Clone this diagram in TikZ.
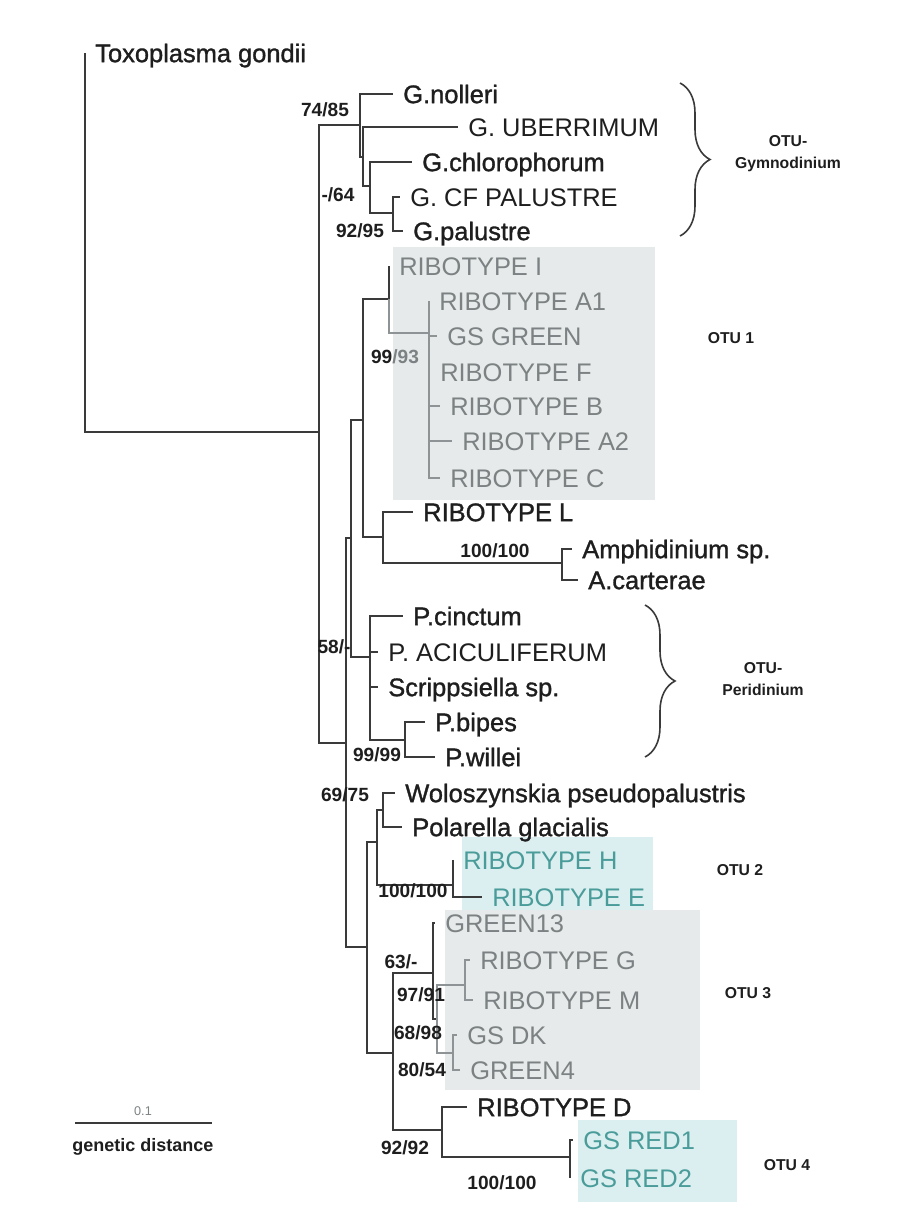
\documentclass[tikz,border=0pt]{standalone}
\usepackage{fontspec}
\setmainfont{Liberation Sans}
\newfontfamily\heavysans{Liberation Sans}[FakeBold=1.2]
\usepackage{tikz}
\usetikzlibrary{decorations.pathreplacing}
\definecolor{ink}{HTML}{1E1E1E}
\definecolor{stemInk}{HTML}{3A3A3A}
\definecolor{twig}{HTML}{8E9495}
\definecolor{otuGray}{HTML}{7C8283}
\definecolor{otuTeal}{HTML}{4A9C9A}
\definecolor{boxGray}{HTML}{E7EAEB}
\definecolor{boxTeal}{HTML}{DCEFF0}
\tikzset{
  taxon/.style={anchor=west, inner xsep=2.5mm, inner ysep=0pt, text height=13pt, text depth=0pt, font=\heavysans\fontsize{18.1pt}{20pt}\selectfont, text=ink},
  grayTaxon/.style={taxon, font=\fontsize{18.1pt}{20pt}\selectfont, text=otuGray},
  tealTaxon/.style={taxon, font=\fontsize{18.1pt}{20pt}\selectfont, text=otuTeal},
  boot/.style={inner sep=0pt, font=\bfseries\fontsize{13.6pt}{15pt}\selectfont, text=ink},
  otu/.style={inner sep=0pt, align=center, font=\bfseries\fontsize{11.2pt}{15.6pt}\selectfont, text=ink},
  stem/.style={draw=stemInk, line width=0.5mm},
  stemlite/.style={draw=twig, line width=0.4mm},
  curly/.style={draw=stemInk, line width=0.4mm, decorate, decoration={brace, amplitude=7.5mm}},
}

\begin{document}
\begin{tikzpicture}[x=0.25mm, y=-0.25mm]
\useasboundingbox (0,0) rectangle (904,1211);
% OTU shading
\fill[boxGray] (393,247) rectangle (655,500);
\fill[boxTeal] (462,837) rectangle (653,910);
\fill[boxGray] (445,910) rectangle (700,1090);
\fill[boxTeal] (578,1120) rectangle (737,1202);

% inner nodes of the tree
\coordinate (R) at (85,240);
\coordinate (A) at (319,432);
\coordinate (G1) at (360,125);
\coordinate (G2) at (363,157);
\coordinate (G3) at (370,186);
\coordinate (Pal) at (393,213);
\coordinate (B) at (346,743);
\coordinate (C) at (351,538);
\coordinate (O1L) at (363,420);
\coordinate (O1) at (389,299);
\coordinate (O1in) at (429,333);
\coordinate (LA) at (383,537);
\coordinate (Am) at (562,563);
\coordinate (Per) at (370,657);
\coordinate (PP) at (405,740);
\coordinate (D) at (367,947);
\coordinate (E) at (377,842);
\coordinate (WP) at (383,810);
\coordinate (HE) at (453,885);
\coordinate (F) at (393,1053);
\coordinate (O3) at (433,973);
\coordinate (O3b) at (437,1019);
\coordinate (GM) at (465,985);
\coordinate (DG) at (453,1053);
\coordinate (DR) at (442,1130);
\coordinate (RED) at (570,1157);

% taxa
\node[taxon] (toxo) at (85,53) {Toxoplasma gondii};
\node[taxon] (nol) at (393,94) {G.nolleri};
\node[taxon, font=\fontsize{18.1pt}{20pt}\selectfont] (uber) at (458,127) {G. UBERRIMUM};
\node[taxon] (chloro) at (412,162) {G.chlorophorum};
\node[taxon, font=\fontsize{18.1pt}{20pt}\selectfont] (cfpal) at (400,197) {G. CF PALUSTRE};
\node[taxon] (gpal) at (403,231) {G.palustre};
\node[grayTaxon] (ribI) at (389,266) {RIBOTYPE I};
\node[grayTaxon] (ribAa) at (429,301) {RIBOTYPE A1};
\node[grayTaxon] (gsgreen) at (437,336) {GS GREEN};
\node[grayTaxon] (ribF) at (430,372) {RIBOTYPE F};
\node[grayTaxon] (ribB) at (440,406) {RIBOTYPE B};
\node[grayTaxon] (ribAb) at (452,441) {RIBOTYPE A2};
\node[grayTaxon] (ribC) at (440,478) {RIBOTYPE C};
\node[taxon] (ribL) at (413,512) {RIBOTYPE L};
\node[taxon] (amph) at (572,549) {Amphidinium sp.};
\node[taxon] (acart) at (578,580) {A.carterae};
\node[taxon] (pcinc) at (403,616) {P.cinctum};
\node[taxon, font=\fontsize{18.1pt}{20pt}\selectfont] (pacic) at (378,652) {P. ACICULIFERUM};
\node[taxon] (scrip) at (378,687) {Scrippsiella sp.};
\node[taxon] (pbip) at (425,722) {P.bipes};
\node[taxon] (pwil) at (435,757) {P.willei};
\node[taxon] (wolo) at (395,793) {Woloszynskia pseudopalustris};
\node[taxon] (polar) at (402,827) {Polarella glacialis};
\node[tealTaxon] (ribH) at (453,860) {RIBOTYPE H};
\node[tealTaxon] (ribE) at (482,897) {RIBOTYPE E};
\node[grayTaxon] (grn13) at (435,923) {GREEN13};
\node[grayTaxon] (ribG) at (470,960) {RIBOTYPE G};
\node[grayTaxon] (ribM) at (473,1000) {RIBOTYPE M};
\node[grayTaxon] (gsdk) at (457,1035) {GS DK};
\node[grayTaxon] (grn4) at (460,1070) {GREEN4};
\node[taxon] (ribD) at (467,1107) {RIBOTYPE D};
\node[tealTaxon] (red1) at (573,1140) {GS RED1};
\node[tealTaxon] (red2) at (570,1178) {GS RED2};

% branches
\foreach \p/\c in {R/toxo, R/A, A/G1, A/B, G1/nol, G1/G2, G2/uber, G2/G3, G3/chloro, G3/Pal,
  Pal/cfpal, Pal/gpal, B/C, B/D, C/O1L, C/Per, O1L/O1, O1L/LA, O1/ribI, LA/ribL, LA/Am,
  Am/amph, Am/acart, Per/pcinc, Per/pacic, Per/scrip, Per/PP, PP/pbip, PP/pwil,
  D/E, D/F, E/WP, E/HE, WP/wolo, WP/polar, HE/ribH, HE/ribE, F/O3, F/DR, O3/grn13, O3/O3b,
  DR/ribD, DR/RED, RED/red1, RED/red2}
  \draw[stem] (\p) |- (\c);
\foreach \p/\c in {O1/O1in, O1in/ribAa, O1in/gsgreen, O1in/ribF, O1in/ribB, O1in/ribAb, O1in/ribC,
  O3b/GM, O3b/DG, GM/ribG, GM/ribM, DG/gsdk, DG/grn4}
  \draw[stemlite] (\p) |- (\c);

% support values
\node[boot] (s1) at (325,110) {74/85};
\node[boot] (s2) at (338,195) {-/64};
\node[boot] (s3) at (360,231) {92/95};
\node[boot] (s4) at (395,357) {99\textcolor{otuGray}{/93}};
\node[boot] (s5) at (495,551) {100/100};
\node[boot] (s6) at (334,647) {58/-};
\node[boot] (s7) at (377,755) {99/99};
\node[boot] (s8) at (345,795) {69/75};
\node[boot] (s9) at (413,891) {100/100};
\node[boot] (s10) at (401,962) {63/-};
\node[boot] (s11) at (421,995) {97/91};
\node[boot] (s12) at (418,1033) {68/98};
\node[boot] (s13) at (422,1070) {80/54};
\node[boot] (s14) at (405,1148) {92/92};
\node[boot] (s15) at (502,1183) {100/100};

% OTU groups
\draw[curly] (680,83) -- (680,236);
\draw[curly] (645,605) -- (645,757);
\node[otu] (gym) at (788,154) {OTU-\\Gymnodinium};
\node[otu] (peri) at (763,679) {OTU-\\Peridinium};
\node[otu] (otu1) at (731,338) {OTU 1};
\node[otu] (otu2) at (740,870) {OTU 2};
\node[otu] (otu3) at (748,993) {OTU 3};
\node[otu] (otu4) at (787,1165) {OTU 4};

% scale bar
\coordinate (sb0) at (75,1123);
\coordinate (sb1) at (212,1123);
\draw[stem, line width=0.4mm] (sb0) -- (sb1);
\node[inner sep=0pt, font=\fontsize{9pt}{10pt}\selectfont, text=otuGray] (sbval) at (143,1111) {0.1};
\node[inner sep=0pt, font=\bfseries\fontsize{12.8pt}{14pt}\selectfont, text=ink] (sbtxt) at (143,1147) {genetic distance};
\end{tikzpicture}
\end{document}
